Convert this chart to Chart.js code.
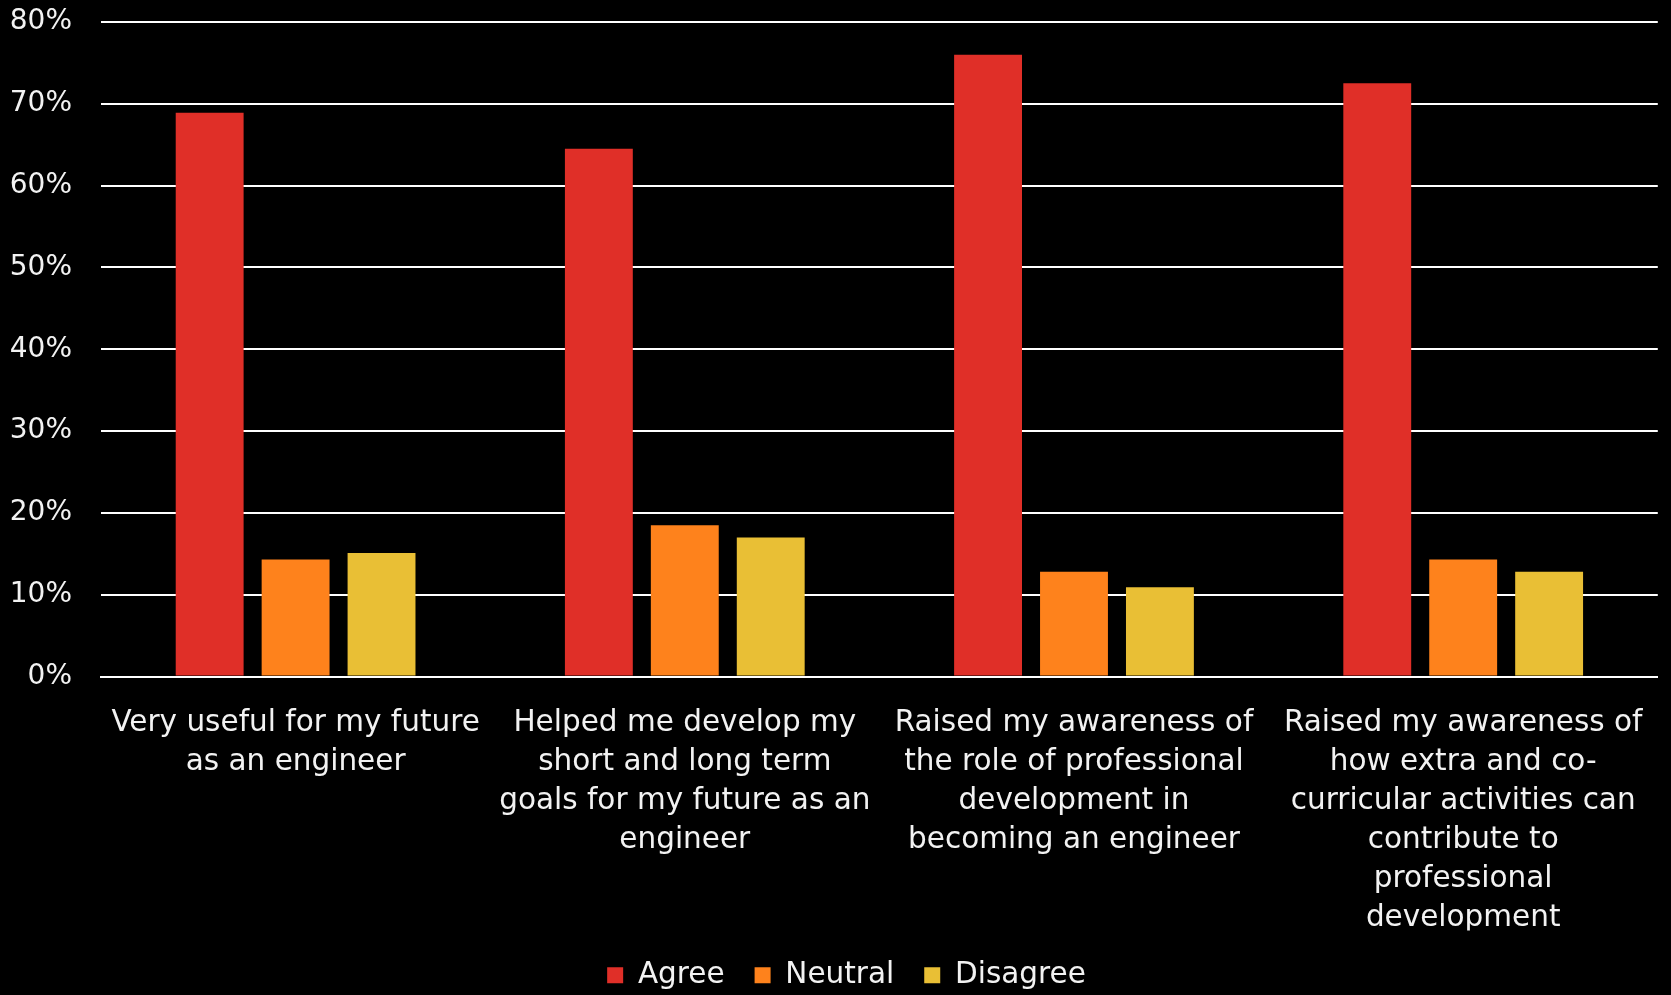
<!DOCTYPE html>
<html>
<head>
<meta charset="utf-8">
<script src="https://cdn.jsdelivr.net/npm/chart.js@4.4.1/dist/chart.umd.min.js"></script>
<style>
html,body{margin:0;padding:0;background:#000;}
#wrap{width:1671px;height:995px;position:relative;}
</style>
</head>
<body>
<div id="wrap"><canvas id="c" width="1671" height="995"></canvas></div>
<script>
const categories = [
  ["Very useful for my future", "as an engineer"],
  ["Helped me develop my", "short and long term", "goals for my future as an", "engineer"],
  ["Raised my awareness of", "the role of professional", "development in", "becoming an engineer"],
  ["Raised my awareness of", "how extra and co-", "curricular activities can", "contribute to", "professional", "development"]
];
const agree = [68.9, 64.5, 76.0, 72.5];
const neutral = [14.3, 18.5, 12.8, 14.3];
const disagree = [15.1, 17.0, 10.9, 12.8];
const yTicks = [0, 10, 20, 30, 40, 50, 60, 70, 80];

const FONT = "'DejaVu Sans', sans-serif";
const TXT = '#f2f2f2';

// nudge the legend block slightly right (reference legend is not centred on the canvas)
const legendShift = {
  id: 'legendShift',
  afterLayout(chart) {
    const lg = chart.legend;
    if (lg) { lg.left += 17; lg.right += 17; }
  }
};

new Chart(document.getElementById('c'), {
  type: 'bar',
  data: {
    labels: categories,
    datasets: [
      {label: 'Agree', data: agree, backgroundColor: '#e02f28'},
      {label: 'Neutral', data: neutral, backgroundColor: '#fe821c'},
      {label: 'Disagree', data: disagree, backgroundColor: '#e9bf35'}
    ]
  },
  plugins: [legendShift],
  options: {
    responsive: false,
    animation: false,
    events: [],
    layout: {padding: {top: 22, right: 12, left: 0, bottom: -5}},
    datasets: {bar: {categoryPercentage: 0.6624, barPercentage: 0.79}},
    plugins: {
      tooltip: {enabled: false},
      legend: {
        position: 'bottom',
        labels: {
          color: TXT,
          font: {family: FONT, size: 29.5},
          boxWidth: 16, boxHeight: 16,
          padding: 30
        }
      }
    },
    scales: {
      x: {
        grid: {display: false, drawTicks: false},
        border: {display: true, color: '#ffffff', width: 2},
        afterFit: (s) => { s.height -= 34; },
        ticks: {color: TXT, font: {family: FONT, size: 29.5, lineHeight: 1.322}, maxRotation: 0, autoSkip: false, padding: 27}
      },
      y: {
        min: 0, max: 80,
        afterBuildTicks: (s) => { s.ticks = yTicks.map(v => ({value: v})); },
        afterFit: (s) => { s.width = 101; },
        grid: {color: '#ffffff', lineWidth: 2, drawTicks: true, tickLength: 29, tickColor: 'rgba(0,0,0,0)'},
        border: {display: false},
        ticks: {color: TXT, font: {family: FONT, size: 28, lineHeight: 0.5}, padding: 0, callback: v => v + '%'}
      }
    }
  }
});
</script>
</body>
</html>
